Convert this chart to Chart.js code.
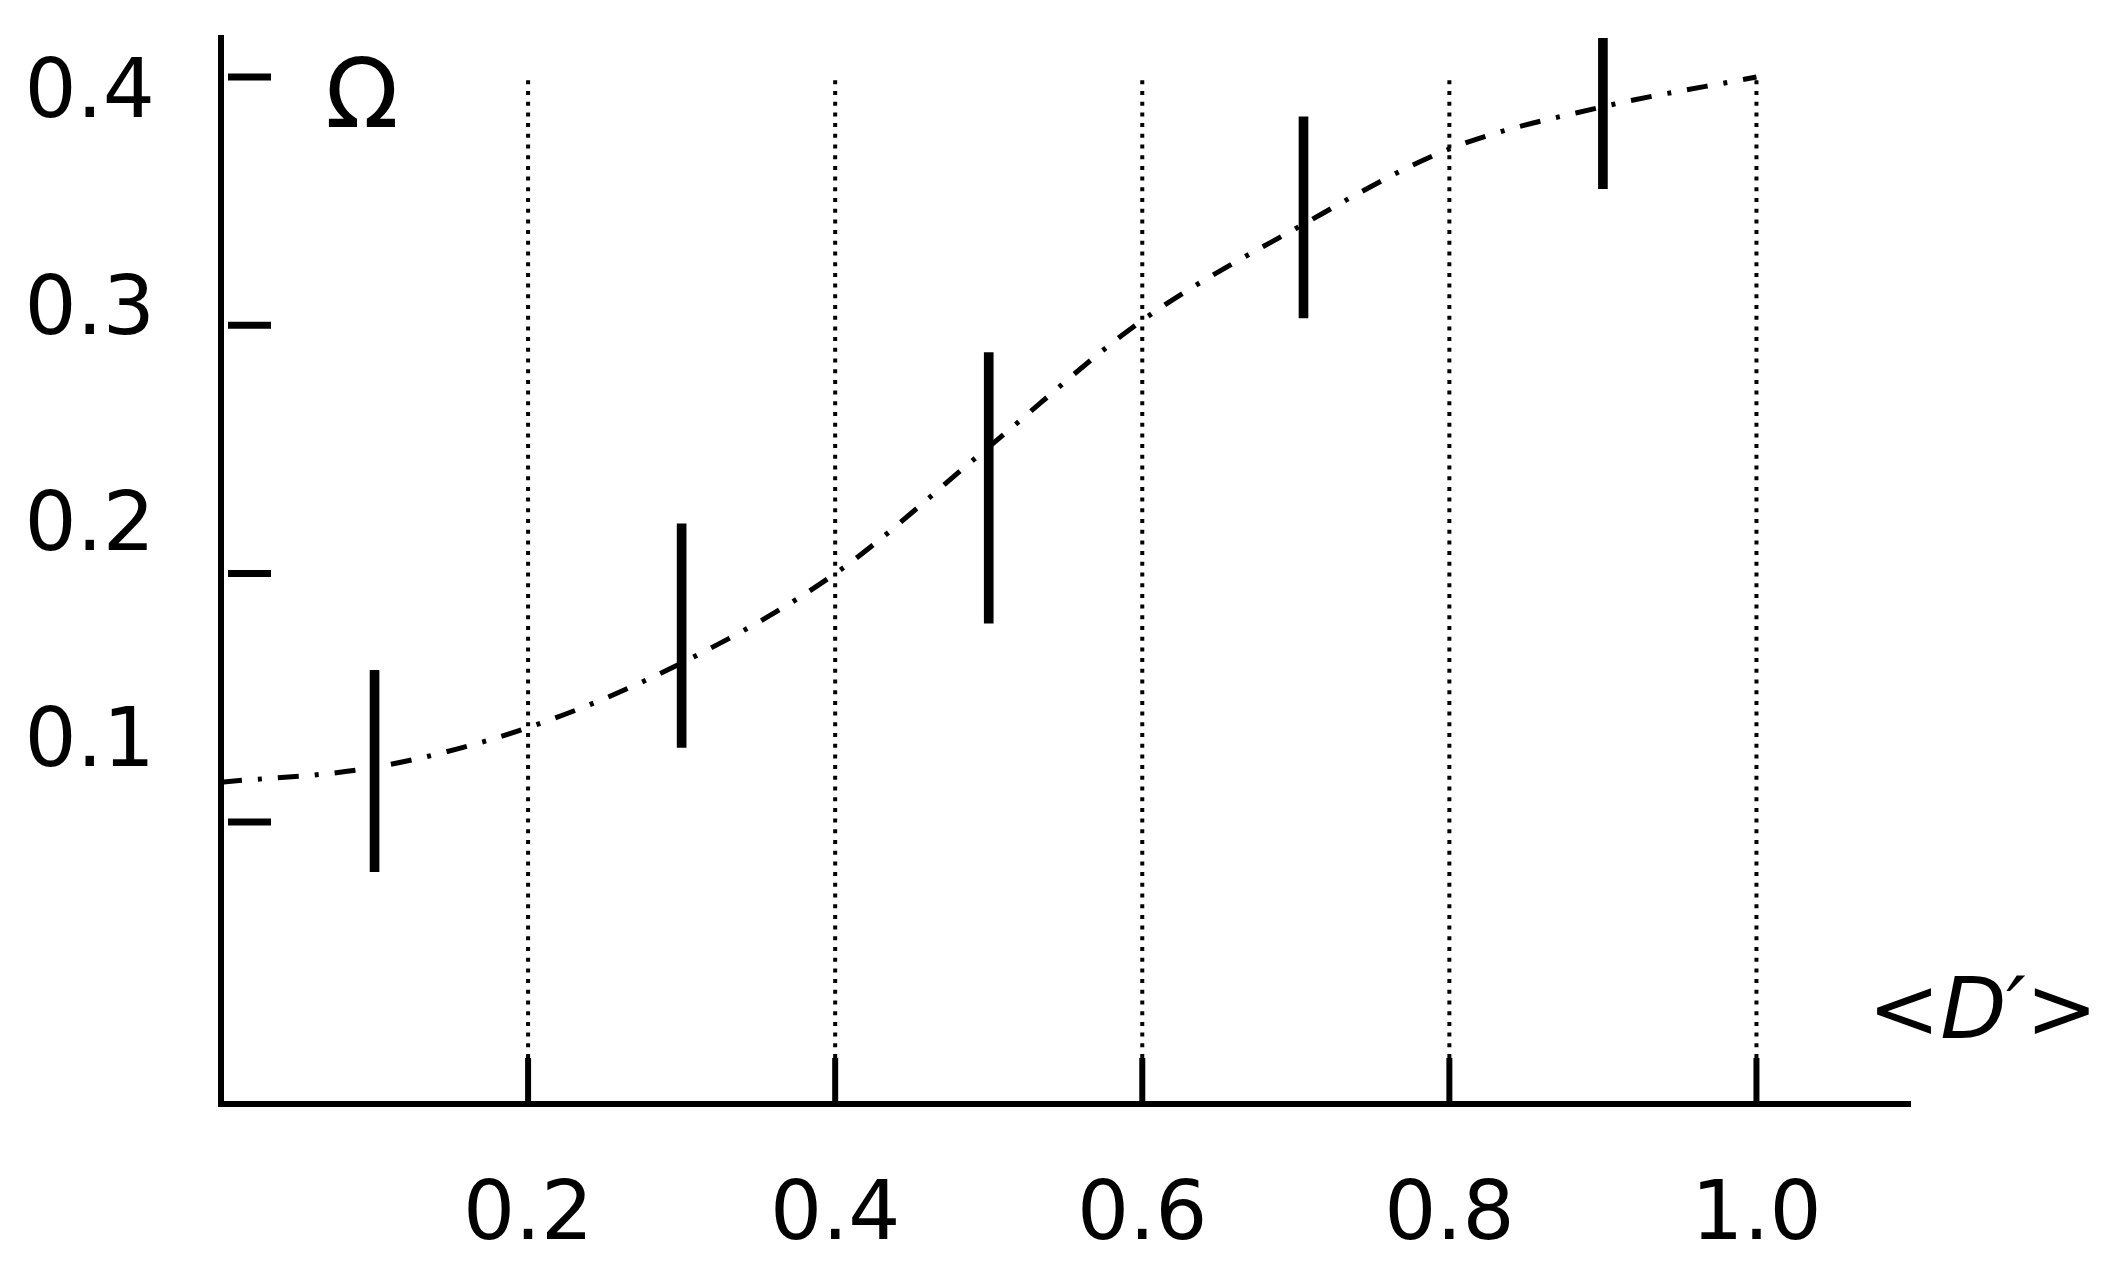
<!DOCTYPE html>
<html><head><meta charset="utf-8">
<script src="https://cdn.jsdelivr.net/npm/chart.js@4.4.1/dist/chart.umd.min.js"></script>
<style>html,body{margin:0;padding:0;background:#fff;overflow:hidden}canvas{display:block}</style>
</head><body>
<canvas id="c" width="2117" height="1270" style="width:2117px;height:1270px"></canvas>
<script>
// ---- data ----
const curveX = [0, 0.1, 0.2, 0.3, 0.4, 0.5, 0.6, 0.7, 0.8, 0.9, 1.0];
const curveY = [0.116, 0.122, 0.138, 0.164, 0.200, 0.251, 0.302, 0.339, 0.371, 0.388, 0.400];
const barX = [0.1, 0.3, 0.5, 0.705, 0.9];
const barLow = [0.080, 0.130, 0.180, 0.303, 0.355];
const barHigh = [0.161, 0.220, 0.289, 0.384, 0.420];
const xTickValues = [0.2, 0.4, 0.6, 0.8, 1.0];
const xTickLabels = ['0.2', '0.4', '0.6', '0.8', '1.0'];
const yTickValues = [0.1, 0.2, 0.3, 0.4];
const yTickLabels = ['0.1', '0.2', '0.3', '0.4'];
const yAxisTitle = 'Ω';
const xAxisTitleParts = ['<', 'D′', '>'];

const FONT = '"DejaVu Sans", Verdana, sans-serif';
Chart.defaults.color = '#000';

const decor = {
  id: 'decor',
  beforeDatasetsDraw(chart) {
    const {ctx, chartArea} = chart;
    const x = chart.scales.x, y = chart.scales.y;
    ctx.save();
    ctx.strokeStyle = '#000';
    const gridTop = y.getPixelForValue(Math.max(...yTickValues));
    xTickValues.forEach(v => {
      const px = x.getPixelForValue(v);
      ctx.setLineDash([]);
      ctx.lineWidth = 6;
      ctx.beginPath(); ctx.moveTo(px, chartArea.bottom); ctx.lineTo(px, chartArea.bottom - 46); ctx.stroke();
      ctx.setLineDash([4, 6.7]);
      ctx.lineWidth = 4;
      ctx.beginPath(); ctx.moveTo(px, chartArea.bottom - 46); ctx.lineTo(px, gridTop); ctx.stroke();
    });
    ctx.setLineDash([]);
    ctx.lineWidth = 7;
    yTickValues.forEach(v => {
      const py = y.getPixelForValue(v);
      ctx.beginPath(); ctx.moveTo(chartArea.left + 7, py); ctx.lineTo(chartArea.left + 50, py); ctx.stroke();
    });
    ctx.restore();
  },
  afterDraw(chart) {
    const {ctx, chartArea} = chart;
    ctx.save();
    ctx.fillStyle = '#000';
    ctx.textBaseline = 'alphabetic';
    // y title
    ctx.font = '96px ' + FONT;
    ctx.textAlign = 'center';
    ctx.fillText(yAxisTitle, chartArea.left + 141, chartArea.top + 89);
    // x title  <D'>
    const fonts = ['86px ' + FONT, 'italic 86px ' + FONT, '86px ' + FONT];
    let widths = xAxisTitleParts.map((t, i) => { ctx.font = fonts[i]; return ctx.measureText(t).width; });
    const total = widths.reduce((a, b) => a + b, 0);
    let cx = chartArea.right + 73 - total / 2;
    ctx.textAlign = 'left';
    xAxisTitleParts.forEach((t, i) => { ctx.font = fonts[i]; ctx.fillText(t, cx, chartArea.bottom - 66); cx += widths[i]; });
    ctx.restore();
  }
};

new Chart(document.getElementById('c'), {
  type: 'line',
  data: {
    datasets: [
      {
        type: 'line',
        data: curveX.map((v, i) => ({x: v, y: curveY[i]})),
        borderColor: '#000',
        borderWidth: 5,
        borderDash: [21, 16, 4, 16],
        borderCapStyle: 'butt',
        pointRadius: 0,
        fill: false,
        cubicInterpolationMode: 'monotone',
        xAxisID: 'x', yAxisID: 'y'
      },
      {
        type: 'bar',
        data: barX.map((v, i) => ({x: v, y: [barLow[i], barHigh[i]]})),
        backgroundColor: '#000',
        borderWidth: 0,
        barThickness: 9,
        xAxisID: 'x', yAxisID: 'y'
      }
    ]
  },
  options: {
    responsive: false,
    devicePixelRatio: 1,
    animation: false,
    layout: {padding: {left: 0, top: 38, right: 207, bottom: 0}},
    plugins: {legend: {display: false}, tooltip: {enabled: false}},
    scales: {
      x: {
        type: 'linear', position: 'bottom', min: 0, max: 1.1, offset: false,
        grid: {display: false},
        border: {display: true, color: '#000', width: 6},
        afterBuildTicks: s => { s.ticks = xTickValues.map(v => ({value: v})); },
        ticks: {
          autoSkip: false, maxRotation: 0, padding: 57,
          font: {family: FONT, size: 82},
          callback: (v) => xTickLabels[xTickValues.indexOf(v)] ?? ''
        },
        afterFit: s => { s.height = 166; s.paddingLeft = 0; s.paddingRight = 0; }
      },
      yLab: {
        type: 'linear', position: 'left', weight: 1, min: -0.0660, max: 0.4268,
        grid: {display: false},
        border: {display: false},
        afterBuildTicks: s => { s.ticks = yTickValues.map(v => ({value: v})); },
        ticks: {
          autoSkip: false, padding: 58,
          font: {family: FONT, size: 82},
          callback: (v) => yTickLabels[yTickValues.indexOf(v)] ?? ''
        },
        afterFit: s => { s.width = 221; s.paddingTop = 0; s.paddingBottom = 0; }
      },
      y: {
        type: 'linear', position: 'left', weight: 0, min: -0.0136, max: 0.4157,
        grid: {display: false},
        border: {display: true, color: '#000', width: 6},
        ticks: {display: false},
        afterFit: s => { s.width = 0; s.paddingTop = 0; s.paddingBottom = 0; }
      }
    }
  },
  plugins: [decor]
});
</script>
</body></html>
